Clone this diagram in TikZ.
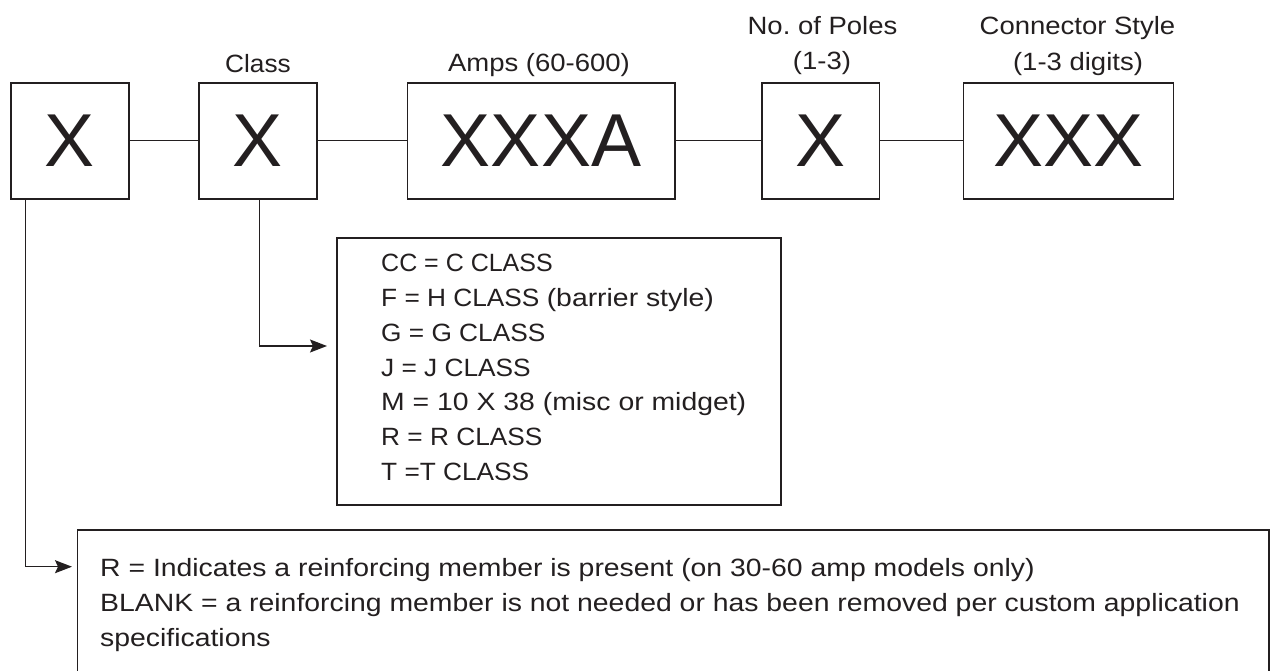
\documentclass[tikz,border=0pt]{standalone}
\usepackage{fontspec}
\setmainfont{Liberation Sans}
\newfontfamily\capsfont[FakeStretch=1.05]{Liberation Sans}
\newfontfamily\lblfont[FakeStretch=1.10]{Liberation Sans}
\newfontfamily\bodyfont[FakeStretch=1.135]{Liberation Sans}
\usetikzlibrary{arrows.meta}
\definecolor{ink}{RGB}{35,31,32}
\frenchspacing
\begin{document}
\begin{tikzpicture}[x=1pt,y=-1pt,
  codebox/.style={draw=ink, line width=1.6pt, inner sep=0pt, outer sep=0pt,
    minimum height=116pt, text=ink, font=\fontsize{75}{80}\selectfont},
  lbl/.style={anchor=base, text=ink, inner sep=0pt, font=\lblfont\fontsize{25}{30}\selectfont},
  link/.style={draw=ink, line width=1.4pt},
  arr/.style={link, -{Stealth[length=17pt,width=13pt,inset=3pt]}},
  listbox/.style={draw=ink, line width=1.6pt, inner sep=0pt, outer sep=0pt},
  item/.style={anchor=base west, text=ink, inner sep=0pt, font=\fontsize{25}{30}\selectfont}]
\useasboundingbox (0,0) rectangle (1270,670);
\clip (0,0) rectangle (1270,670);

% code boxes
\node[codebox, minimum width=118pt]   (b1) at (69.7,140.7)  {X};
\node[codebox, minimum width=118pt]   (b2) at (257.7,140.7) {X};
\node[codebox, minimum width=267.4pt] (b3) at (541,140.7)   {XXXA};
\node[codebox, minimum width=117.6pt] (b4) at (820.5,140.7) {X};
\node[codebox, minimum width=210pt]   (b5) at (1068.3,140.7) {XXX};

\draw[link] (b1) -- (b2);
\draw[link] (b2) -- (b3);
\draw[link] (b3) -- (b4);
\draw[link] (b4) -- (b5);

% labels
\node[lbl, font=\capsfont\fontsize{25}{30}\selectfont] (lclass) at (258,72) {Class};
\node[lbl] (lamps)   at (539,71)    {Amps (60-600)};
\node[lbl] (lpoles1) at (822.5,34)  {No. of Poles};
\node[lbl] (lpoles2) at (822,69.5)  {(1-3)};
\node[lbl] (lconn1)  at (1077.5,34) {Connector Style};
\node[lbl] (lconn2)  at (1078,70)   {(1-3 digits)};

% class list
\node[listbox, minimum width=444pt, minimum height=267pt] (classbox) at (559,371.5) {};
\node[item] (c1) at (381,271.7) {CC = C CLASS};
\node[item] (c2) at (381,306.7) {\capsfont F = H CLASS \bodyfont(barrier style)};
\node[item] (c3) at (381,341.4) {\capsfont G = G CLASS};
\node[item] (c4) at (381,376.0) {\capsfont J = J CLASS};
\node[item] (c5) at (381,410.7) {\bodyfont M = 10 X 38 (misc or midget)};
\node[item] (c6) at (381,445.4) {\capsfont R = R CLASS};
\node[item] (c7) at (381,480.0) {\capsfont T =T CLASS};

% reinforcing box
\node[listbox, minimum width=1191.7pt, minimum height=170pt] (rbox) at (673.15,615) {};
\node[item, font=\bodyfont\fontsize{25}{30}\selectfont] (r1) at (100,576.7) {R = Indicates a reinforcing member is present (on 30-60 amp models only)};
\node[item, font=\bodyfont\fontsize{25}{30}\selectfont] (r2) at (100,611.7) {BLANK = a reinforcing member is not needed or has been removed per custom application};
\node[item, font=\bodyfont\fontsize{25}{30}\selectfont] (r3) at (100,646.7) {specifications};

% arrows
\coordinate (clsin) at (327,346);
\coordinate (blankin) at (72,566.7);
\draw[arr] ([xshift=1.6pt]b2.south) |- (clsin);
\draw[arr] ([xshift=14.6pt]b1.south west) |- (blankin);
\end{tikzpicture}
\end{document}
